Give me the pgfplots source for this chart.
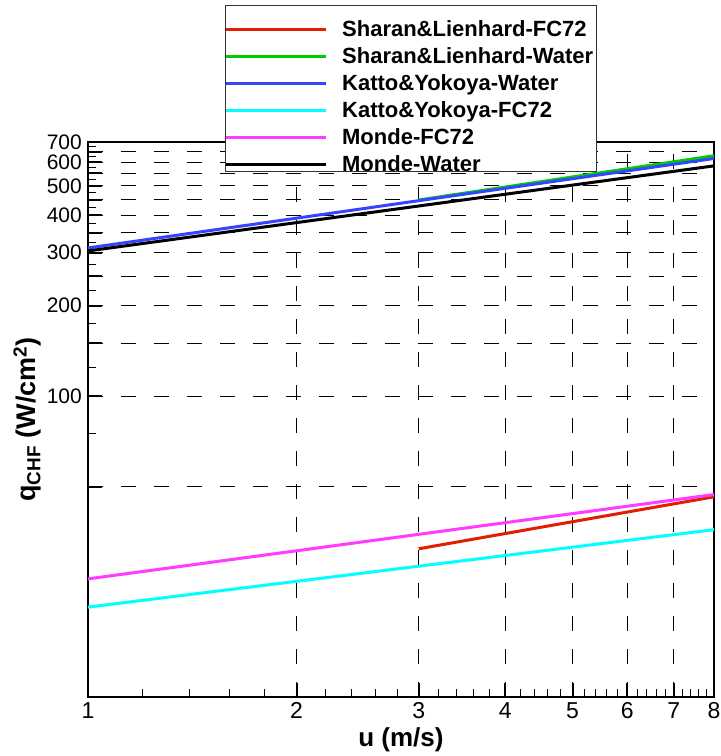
\documentclass[border=0pt]{standalone}
\usepackage{fontspec}
\setmainfont{Liberation Sans}
\usepackage{pgfplots}
\pgfplotsset{compat=1.18}
\definecolor{cRed}{RGB}{225,30,0}
\definecolor{cGreen}{RGB}{0,205,0}
\definecolor{cBlue}{RGB}{50,70,255}
\definecolor{cCyan}{RGB}{0,255,255}
\definecolor{cMag}{RGB}{255,60,255}
\begin{document}
\begin{tikzpicture}
\useasboundingbox (-88pt,-59pt) rectangle (633pt,697pt);
\begin{axis}[
  at={(0pt,0pt)}, anchor=south west,
  scale only axis, width=626pt, height=555pt,
  clip=false,
  xmode=log, ymode=log,
  xmin=1, xmax=8, ymin=10, ymax=700,
  xtick={1,2,3,4,5,6,7,8},
  xticklabels={1,2,3,4,5,6,7,8},
  minor xtick={1.2,1.4,1.6,1.8,2.2,2.4,2.6,2.8,3.2,3.4,3.6,3.8,4.2,4.4,4.6,4.8,5.2,5.4,5.6,5.8,6.2,6.4,6.6,6.8,7.2,7.4,7.6,7.8},
  ytick={50,100,150,200,250,300,350,400,450,500,550,600,650,700},
  yticklabels={,100,,200,,300,,400,,500,,600,,700},
  minor ytick={25,75,125,175,225,275,325,375,425,475,525,575,625,675},
  tick pos=left,
  xmajorgrids, ymajorgrids,
  major grid style={dash pattern=on 15pt off 18pt, black, line width=1pt},
  major tick length=14pt, minor tick length=8pt,
  major tick style={black, line width=2pt},
  minor tick style={black, line width=1pt},
  axis line style={line width=2.5pt},
  /pgf/number format/assume math mode=true,
  xticklabel style={font=\fontsize{23}{23}\selectfont, inner sep=5pt},
  yticklabel style={font=\fontsize{21}{21}\selectfont, inner sep=6pt},
  xlabel style={font=\fontsize{26}{26}\selectfont\bfseries, yshift=-1pt},
  ylabel style={font=\fontsize{27}{27}\selectfont\bfseries, yshift=-4pt},
  xlabel={u (m/s)},
  ylabel={q\textsubscript{CHF} (W/cm\textsuperscript{2})},
  legend cell align=left,
  legend image code/.code={\draw[#1, line width=3pt] (0pt,0pt) -- (100pt,0pt);},
  legend style={at={(axis description cs:0.2172,1.2267)}, anchor=north west,
    draw=none, fill=none,
    font=\fontsize{22}{22}\selectfont\bfseries,
    inner xsep=0pt, inner ysep=0pt, row sep=0pt,
    nodes={inner xsep=0pt, inner ysep=5pt, text height=15pt, text depth=2pt},
    /tikz/every odd column/.style={column sep=15pt}},
]
\draw[black!80, line width=0.9pt, fill=white]
  (axis description cs:0.2188,1.2468) rectangle (axis description cs:0.8115,0.9477);
\addplot[cRed, line width=3pt] coordinates {(3,31.1) (8,46.3)};
\addlegendentry{Sharan\&Lienhard-FC72}
\addplot[cGreen, line width=3pt] coordinates {(3,449) (8,630)};
\addlegendentry{Sharan\&Lienhard-Water}
\addplot[cBlue, line width=3pt] coordinates {(1,311) (8,617)};
\addlegendentry{Katto\&Yokoya-Water}
\addplot[cCyan, line width=3pt] coordinates {(1,19.9) (8,36.0)};
\addlegendentry{Katto\&Yokoya-FC72}
\addplot[cMag, line width=3pt] coordinates {(1,24.7) (8,47.1)};
\addlegendentry{Monde-FC72}
\addplot[black, line width=3pt] coordinates {(1,304) (8,583)};
\addlegendentry{Monde-Water}
\end{axis}
\end{tikzpicture}
\end{document}
